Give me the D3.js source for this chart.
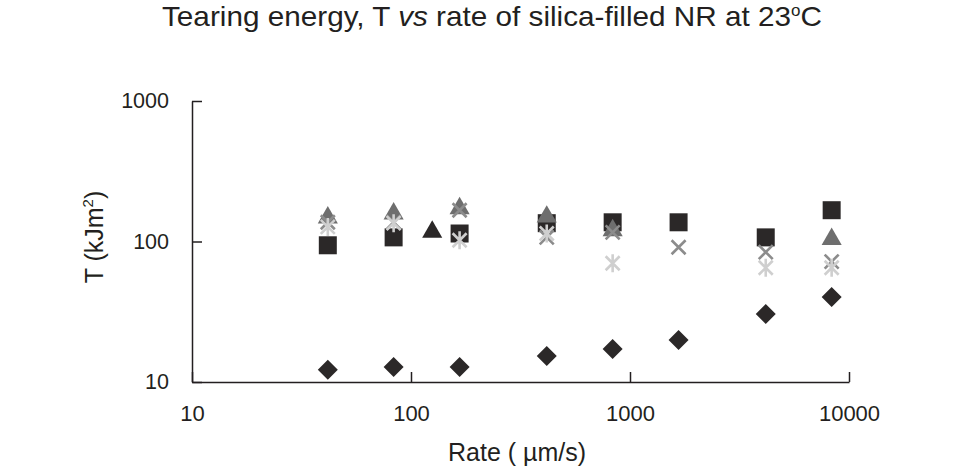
<!DOCTYPE html>
<html><head><meta charset="utf-8">
<script src="https://cdn.jsdelivr.net/npm/d3@7"></script>
<style>body{margin:0;background:#fff}svg{display:block}text{font-family:"Liberation Sans",Arial,sans-serif;fill:#231f20}</style>
</head><body><svg id="c" width="960" height="467"></svg>
<script>
const rates = [41.7, 83.3, 166.7, 416.7, 833.3, 1666.7, 4166.7, 8333.3];
const squareVals = [94, 107, 114, 135, 137, 137, 107, 167];
const diamondVals = [12.2, 12.8, 12.8, 15.3, 17.2, 19.9, 30.5, 40.3];
const blackTriRates = [125];
const blackTriVals = [117];
const grayTriRates = [41.7, 83.3, 166.7, 416.7, 833.3, 8333.3];
const grayTriVals = [148, 158, 172, 150, 120, 104];
const crossVals = [137, 137, 167, 107, 116, 91, 84, 72];
const starRates = [41.7, 83.3, 166.7, 416.7, 833.3, 4166.7, 8333.3];
const starVals = [127, 135, 102, 114, 70, 65, 65];
const xTicks = [10, 100, 1000, 10000];
const yTicks = [10, 100, 1000];

const svg = d3.select("#c");
const x = d3.scaleLog().domain([10, 10000]).range([192, 849]);
const y = d3.scaleLog().domain([10, 1000]).range([382, 101]);
const ink = "#231f20";

svg.append("g").attr("transform","translate(0,382)")
  .call(d3.axisBottom(x).tickValues(xTicks).tickFormat(d3.format("d")).tickSizeInner(-10).tickSizeOuter(0).tickPadding(23))
  .call(g=>{g.selectAll("path,line").attr("stroke",ink).attr("stroke-width",1.5);g.selectAll("text").attr("font-size",22).attr("fill",ink).attr("font-family","Liberation Sans, Arial, sans-serif");});
svg.append("g").attr("transform","translate(192,0)")
  .call(d3.axisLeft(y).tickValues(yTicks).tickFormat(d3.format("d")).tickSizeInner(-10).tickSizeOuter(0).tickPadding(23))
  .call(g=>{g.selectAll("path,line").attr("stroke",ink).attr("stroke-width",1.5);g.selectAll("text").attr("font-size",21.5).attr("fill",ink).attr("font-family","Liberation Sans, Arial, sans-serif");});

// title
const t = svg.append("text").attr("x",162).attr("y",26).attr("font-size",28)
  .attr("textLength",660).attr("lengthAdjust","spacingAndGlyphs");
t.append("tspan").text("Tearing energy, T ");
t.append("tspan").attr("font-style","italic").text("vs");
t.append("tspan").text(" rate of silica-filled NR at 23");
t.append("tspan").attr("font-size",16).attr("dy",-10).text("o");
t.append("tspan").attr("dy",10).text("C");

// axis titles
svg.append("text").attr("x",517).attr("y",461).attr("text-anchor","middle").attr("font-size",25).text("Rate ( µm/s)");
const yl = svg.append("text").attr("transform","translate(103,237) rotate(-90)").attr("text-anchor","middle").attr("font-size",25);
yl.append("tspan").text("T (kJm");
yl.append("tspan").attr("font-size",15).attr("dy",-10).text("2");
yl.append("tspan").attr("dy",10).text(")");

const pts = (xs, ys) => xs.map((r,i)=>({r, v: ys[i]}));
const dark = "#2b2828";
function draw(data, pathStr, fill, stroke){
  svg.append("g").selectAll("path").data(data).join("path")
    .attr("transform", d=>`translate(${x(d.r)},${y(d.v)})`)
    .attr("d", pathStr)
    .attr("fill", fill || "none")
    .attr("stroke", stroke || "none")
    .attr("stroke-width", stroke ? 2.6 : 0);
}
const diamond = "M0,-10L10,0L0,10L-10,0Z";
const square = d3.symbol(d3.symbolSquare, 324)();
const tri = d3.symbol(d3.symbolTriangle, 175)();
const cross = "M-7,-7L7,7M-7,7L7,-7";
const star = "M-7,-7L7,7M-7,7L7,-7M0,-9L0,9";

draw(pts(rates, diamondVals), diamond, dark);
draw(pts(rates, squareVals), square, dark);
draw(pts(grayTriRates, grayTriVals), tri, "#6e6e6e");
draw(pts(blackTriRates, blackTriVals), tri, dark);
draw(pts(rates, crossVals), cross, null, "#8c8c8c");
draw(pts(starRates, starVals), star, null, "#cfcfcf");
</script></body></html>
